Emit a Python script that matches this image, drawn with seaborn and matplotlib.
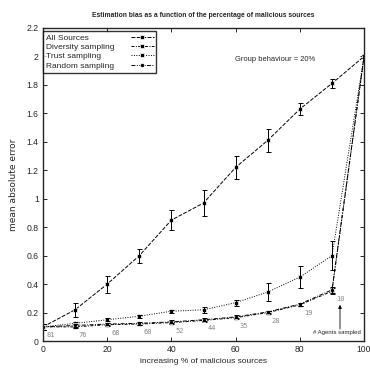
import matplotlib
matplotlib.use("Agg")
import matplotlib.pyplot as plt
import seaborn as sns
import pandas as pd
import numpy as np

x_pct = [0, 10, 20, 30, 40, 50, 60, 70, 80, 90, 100]
all_sources = [0.10, 0.22, 0.40, 0.60, 0.85, 0.97, 1.22, 1.41, 1.63, 1.81, 2.00]
all_err = [0.02, 0.05, 0.06, 0.05, 0.07, 0.09, 0.08, 0.08, 0.04, 0.03, 0.01]
diversity = [0.10, 0.10, 0.115, 0.12, 0.13, 0.145, 0.165, 0.20, 0.255, 0.35, 2.00]
diversity_err = [0.02, 0.01, 0.01, 0.01, 0.01, 0.01, 0.01, 0.01, 0.01, 0.02, 0.01]
trust = [0.10, 0.125, 0.15, 0.175, 0.21, 0.22, 0.27, 0.345, 0.45, 0.60, 2.00]
trust_err = [0.02, 0.01, 0.01, 0.01, 0.01, 0.02, 0.02, 0.06, 0.08, 0.10, 0.01]
random_s = [0.10, 0.11, 0.12, 0.125, 0.135, 0.15, 0.17, 0.205, 0.26, 0.36, 2.00]
random_err = [0.02, 0.01, 0.01, 0.01, 0.01, 0.01, 0.01, 0.01, 0.01, 0.02, 0.01]
agents = [81, 76, 68, 60, 52, 44, 35, 28, 19, 10]
series_names = ["All Sources", "Diversity sampling", "Trust sampling", "Random sampling"]

sns.set_style("ticks")
plt.rcParams['font.family'] = ['Liberation Sans', 'DejaVu Sans']

fig = plt.figure(figsize=(3.70, 3.72), dpi=100)
ax = fig.add_axes([0.116, 0.083, 0.868, 0.842])

styles = [
    dict(ls=(0, (4, 1.5)), marker='s', ms=3),
    dict(ls=(0, (3, 1.5, 1, 1.5)), marker='s', ms=3.5),
    dict(ls=(0, (1, 1.5)), marker='s', ms=3.5),
    dict(ls=(0, (4, 1.5, 1, 1.5)), marker='o', ms=3),
]
ys = [all_sources, diversity, trust, random_s]
errs = [all_err, diversity_err, trust_err, random_err]

frames = []
for name, y in zip(series_names, ys):
    frames.append(pd.DataFrame({"x": x_pct, "y": y, "series": name}))
df = pd.concat(frames, ignore_index=True)

for name, y, e, st in zip(series_names, ys, errs, styles):
    sub = df[df.series == name]
    sns.lineplot(data=sub, x="x", y="y", ax=ax, color="black", lw=0.7,
                 linestyle=st['ls'], marker=st['marker'], markersize=st['ms'],
                 markeredgewidth=0.5, label=name, legend=False)
    ax.errorbar(x_pct, y, yerr=e, fmt='none', ecolor='black', elinewidth=0.7,
                capsize=1.8, capthick=0.7)

for xi, yi, n in zip(x_pct[:-1], diversity[:-1], agents):
    ax.text(xi + 1.2, yi - 0.035, str(n), fontsize=5, color='#888888',
            family='DejaVu Sans Mono', va='top', ha='left')

ax.annotate("", xy=(92.5, 0.255), xytext=(92.5, 0.085),
            arrowprops=dict(arrowstyle='-|>', color='black', lw=0.6, mutation_scale=5,
                            shrinkA=0, shrinkB=0))
ax.text(91.7, 0.058, "# Agents sampled", fontsize=4.3, ha='center', va='center')
ax.text(72.2, 1.98, "Group behaviour = 20%", fontsize=5.4, ha='center', va='center')

ax.set_xlim(0, 100)
ax.set_ylim(0, 2.2)
ax.set_xticks([0, 20, 40, 60, 80, 100])
ax.set_yticks([0, 0.2, 0.4, 0.6, 0.8, 1, 1.2, 1.4, 1.6, 1.8, 2, 2.2])
ax.set_yticklabels(["0", "0.2", "0.4", "0.6", "0.8", "1", "1.2", "1.4", "1.6", "1.8", "2", "2.2"])
ax.tick_params(direction='in', length=3, width=0.7, labelsize=6.2, top=True, right=True, pad=3)
for s in ax.spines.values():
    s.set_linewidth(1.0)
    s.set_visible(True)

ax.set_xlabel("increasing % of malicious sources", fontsize=6, labelpad=3)
ax.set_ylabel("mean absolute error", fontsize=6.5, family='DejaVu Sans', labelpad=6)
fig.suptitle("Estimation bias as a function of the percentage of malicious sources",
             fontsize=4.9, fontweight='bold', x=0.548, y=0.967)

handles, labels = ax.get_legend_handles_labels()
leg = ax.legend(handles, labels, loc='upper left', bbox_to_anchor=(0.0, 1 - 3 / 313),
                markerfirst=False, fontsize=6.0,
                frameon=True, fancybox=False, borderpad=0.35, labelspacing=0.18,
                handlelength=2.7, handletextpad=2.0, borderaxespad=0.0)
leg.get_frame().set_edgecolor('black')
leg.get_frame().set_linewidth(1.0)

# left-align legend texts with samples on the right (gnuplot style)
renderer = fig.canvas.get_renderer()
widths = [t.get_window_extent(renderer).width for t in leg.get_texts()]
maxw = max(widths)
column = leg._legend_handle_box.get_children()[0]
rows = column.get_children()
for row, w in zip(rows, widths):
    row.sep = row.sep + (maxw - w) * 72.0 / fig.dpi

fig.savefig("out.png", dpi=100)
